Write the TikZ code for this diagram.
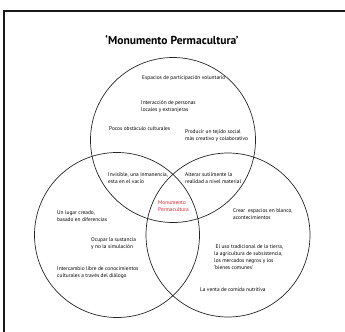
\documentclass[tikz,border=0pt]{standalone}
\usepackage{fontspec}
\setmainfont{PT Sans}
\usepackage{tikz}

\definecolor{monured}{RGB}{232,30,37}

\tikzset{
	lbl/.style={anchor=west, align=left, inner sep=0pt, font=\fontsize{5.4}{7.1}\selectfont},
	ring/.style={draw=black!85, line width=0.7bp}
}

\begin{document}
\begin{tikzpicture}[x=1bp, y=-1bp]
	\useasboundingbox (0,0) rectangle (345,332);
	\coordinate (T) at (173, 140);
	\coordinate (L) at (117, 235);
	\coordinate (R) at (228, 235);

	\draw [line width=2.2bp, black!90] (345,11) -- (4,11) -- (4,332);
	\node (title) at (172, 40) {\fontsize{11.6}{13}\selectfont\bfseries ‘Monumento Permacultura’};

	\draw [ring] (T) circle [radius=82.5bp];
	\draw [ring] (L) circle [radius=82.5bp];
	\draw [ring] (R) circle [radius=82bp];

	% circulo de arriba
	\node [lbl] (espacios) at (142, 78) {Espacios de participación voluntario};
	\node [lbl] (interaccion) at (141, 107) {Interacción de personas\\locales y extranjeras};
	\node [lbl] (pocos) at (109, 129) {Pocos obstáculo culturales};
	\node [lbl] (producir) at (185, 136) {Producir un tejido social\\más creativo y colaborativo};

	% intersecciones
	\node [lbl] (invisible) at (108, 178) {Invisible, una inmanencia,\\esta en el vacío};
	\node [lbl] (alterar) at (185, 178) {Alterar sutilmente la\\realidad a nivel material};
	\node [lbl, text=monured] (monumento) at (158, 206) {Monumento\\Permacultura};

	% circulo izquierdo
	\node [lbl] (lugar) at (57, 216) {Un lugar creado,\\basado en diferencias};
	\node [lbl] (ocupar) at (91, 244) {Ocupar la sustancia\\y no la simulación};
	\node [lbl] (intercambio) at (57, 273) {Intercambio libre de conocimientos\\culturales a través del diálogo};

	% circulo derecho
	\node [lbl] (crear) at (233, 214) {Crear \ espacios en blanco,\\acontecimientos};
	\node [lbl] (uso) at (214, 257) {\ El uso tradicional de la tierra,\\la agricultura de subsistencia,\\los mercados negros y los\\‘bienes comunes’};
	\node [lbl] (venta) at (200, 290) {La venta de comida nutritiva};
\end{tikzpicture}
\end{document}
